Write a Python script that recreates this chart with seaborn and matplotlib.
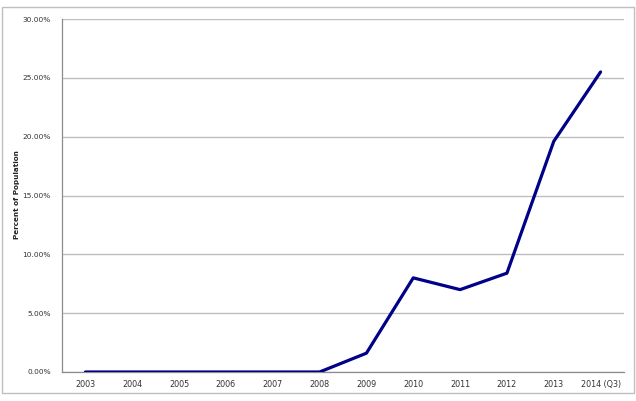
import pandas as pd
import seaborn as sns
import matplotlib.pyplot as plt
import numpy as np
from matplotlib.patches import Rectangle
from matplotlib.ticker import FuncFormatter, FixedLocator

years = ["2003", "2004", "2005", "2006", "2007", "2008", "2009",
         "2010", "2011", "2012", "2013", "2014 (Q3)"]
percent = [0.0, 0.0, 0.0, 0.0, 0.0, 0.0, 1.6, 8.0, 7.0, 8.4, 19.6, 25.5]

df = pd.DataFrame({"Year": years, "Percent": percent})

sns.set_style("white")
plt.rcParams["font.family"] = ["DejaVu Sans"]

fig = plt.figure(figsize=(6.36, 4.01), dpi=100)
ax = fig.add_axes([62 / 636, 1 - 372 / 401, 562 / 636, 353 / 401])

sns.lineplot(data=df, x="Year", y="Percent", color="#000088", linewidth=2.3,
             sort=False, ax=ax, zorder=3)

ax.set_ylim(0, 30)
ax.set_xlim(-0.5, len(years) - 0.5)
ax.set_yticks(np.arange(0, 31, 5))
ax.yaxis.set_major_formatter(FuncFormatter(lambda v, p: f"{v:.2f}%"))
ax.grid(axis="y", color="#BEBEBE", linewidth=1.0)
ax.set_axisbelow(True)

ax.set_xticks(range(len(years)))
ax.set_xticklabels(years)
ax.xaxis.set_minor_locator(FixedLocator(np.arange(-0.5, len(years), 1)))
ax.tick_params(axis="x", which="major", length=0, pad=6, labelsize=5.8, colors="#333333")
ax.tick_params(axis="x", which="minor", length=3, width=0.8, color="#8C8C8C", direction="out")
ax.tick_params(axis="y", length=4, width=0.8, color="#8C8C8C", direction="out",
               labelsize=5.3, labelcolor="#333333", pad=4)

for side in ["top", "right"]:
    ax.spines[side].set_visible(False)
for side in ["left", "bottom"]:
    ax.spines[side].set_color("#8C8C8C")
    ax.spines[side].set_linewidth(0.9)

ax.set_xlabel("")
ax.set_ylabel("")
fig.text(17 / 636, 1 - 195 / 401, "Percent of Population", rotation=90,
         fontsize=5.2, fontweight="bold", ha="center", va="center", color="#222222")

fig.patches.append(Rectangle((2 / 636, 1 - 393 / 401), 632 / 636, 386 / 401,
                             transform=fig.transFigure, fill=False,
                             edgecolor="#BFBFBF", linewidth=1.0))

plt.savefig("out.png", dpi=100)
